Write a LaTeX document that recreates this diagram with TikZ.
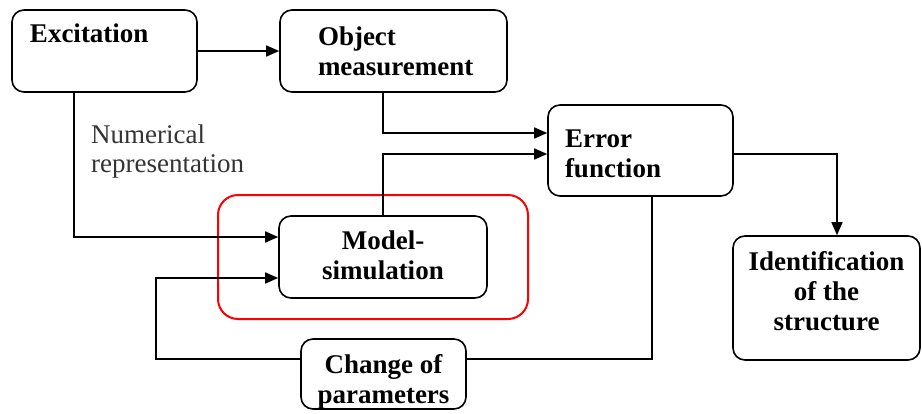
\documentclass[tikz,border=0pt]{standalone}
\usepackage{fontspec}
\setmainfont{Liberation Serif}
\usetikzlibrary{arrows.meta}

\begin{document}
\begin{tikzpicture}[x=1pt,y=-1pt,
  box/.style={draw,line width=1.6pt,rounded corners=12pt,inner sep=0pt,
    font=\bfseries\fontsize{27}{30}\selectfont},
  arr/.style={line width=1.6pt,-{Triangle[length=13pt,width=11pt]}},
  wire/.style={line width=1.6pt}]
\useasboundingbox (0,0) rectangle (922,413);
\node[draw=red,line width=2pt,rounded corners=20pt,minimum width=310pt,minimum height=124pt] (grp) at (373,257) {};
\node[box,minimum width=185pt,minimum height=82pt,text width=149pt,align=left] (exc) at (104.5,51) {Excitation\\[-3pt]\strut};
\node[box,minimum width=227pt,minimum height=82pt,text width=151pt,align=left] (obj) at (393.5,51) {Object\\measurement};
\node[box,minimum width=185pt,minimum height=91pt,text width=151pt,align=left] (err) at (640.5,150.5) {\mbox{}\\[-5pt]Error\\function};
\node[box,minimum width=208pt,minimum height=82pt,align=center] (model) at (383,257) {Model-\\simulation\\[-26pt]\mbox{}};
\node[box,minimum width=187pt,minimum height=124pt,align=center] (ident) at (826.5,298) {Identification\\of the\\structure\\[-16pt]\mbox{}};
\node[box,minimum width=165pt,minimum height=70pt,align=center] (chg) at (383.5,374) {\mbox{}\\[4pt]Change of\\parameters};
\node[anchor=north west,align=left,inner sep=0pt,text=black!80,font=\fontsize{27}{29}\selectfont] (num) at (91,125) {Numerical\\representation};
% connectors
\draw[arr] (exc.east) -- (obj.west);
\draw[arr] ([xshift=-30.5pt]exc.south) |- ([yshift=20pt]model.west);
\draw[arr] (obj.south -| model.north) |- ([yshift=17.5pt]err.west);
\draw[arr] (model.north) |- ([yshift=-3.5pt]err.west);
\draw[arr] ([yshift=-3.5pt]err.east) -| ([xshift=10.5pt]ident.north);
\draw[wire] ([xshift=11.5pt]err.south) |- ([yshift=15pt]chg.east);
\draw[arr] ([yshift=15pt]chg.west) -- ++(-144,0) |- ([yshift=-21pt]model.west);
\end{tikzpicture}
\end{document}
